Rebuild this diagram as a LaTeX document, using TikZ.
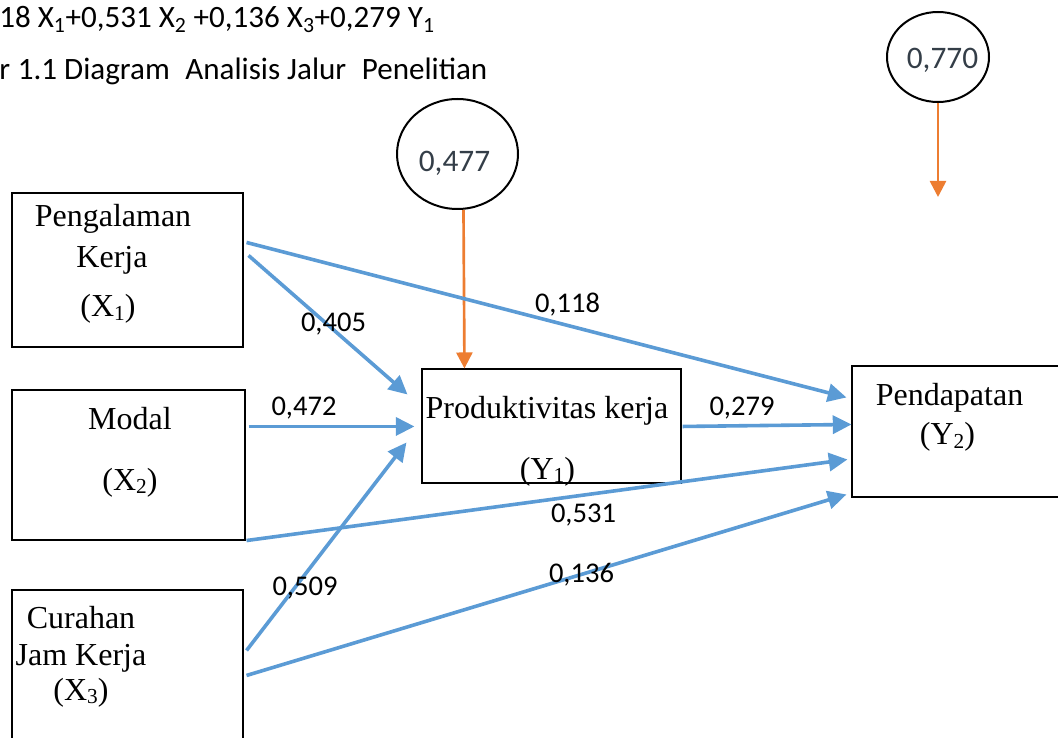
\documentclass[tikz,border=0pt]{standalone}
\usepackage{fontspec}
\setmainfont{Liberation Serif}
\newfontfamily\calib{Carlito}
\usetikzlibrary{arrows.meta,shapes.geometric,calc}
\definecolor{pblue}{RGB}{91,155,213}
\definecolor{porange}{RGB}{237,125,49}
\definecolor{cgray}{RGB}{52,62,72}
\newcommand{\sbx}[1]{\raisebox{-0.1em}{\fontsize{16}{16}\selectfont #1}}
\begin{document}
\begin{tikzpicture}[x=0.75pt,y=-0.75pt,
  box/.style={draw=black,line width=0.8pt,inner sep=0,rectangle},
  st/.style={font=\fontsize{24}{28}\selectfont,inner sep=0,anchor=base},
  lab/.style={font=\calib\fontsize{21.4}{25}\selectfont,inner sep=0,anchor=base},
  toptext/.style={font=\calib\fontsize{23.3}{27}\selectfont,inner sep=0,anchor=base west},
  circ/.style={draw=black,line width=1.5pt,ellipse,inner sep=0},
  ctext/.style={font=\calib\fontsize{23.5}{27}\selectfont,text=cgray,inner sep=0,anchor=base},
  pth/.style={draw=pblue,line width=2.7pt,-{Triangle[length=14pt,width=13.5pt]}},
  errarrow/.style={draw=porange,line width=2pt,-{Triangle[length=12pt,width=12pt]}}]
\useasboundingbox (0,0) rectangle (1058,738);
\clip (0,0) rectangle (1058,738);

% top text
\node[toptext] (eq) at (-1,28) {18 X\textsubscript{1}+0,531 X\textsubscript{2} +0,136 X\textsubscript{3}+0,279 Y\textsubscript{1}};
\node[toptext] (cap) at (-1,80) {r\hspace{0.25em}1.1 Diagram\hspace{0.5em}Analisis Jalur\hspace{0.5em}Penelitian};

% boxes
\node[box,minimum width=231*0.75pt,minimum height=154*0.75pt] (x1) at (127.5,270) {};
\node[box,minimum width=233*0.75pt,minimum height=150*0.75pt] (x2) at (128.5,465) {};
\node[box,minimum width=231*0.75pt,minimum height=170*0.75pt] (x3) at (127.5,675) {};
\node[box,minimum width=259*0.75pt,minimum height=114*0.75pt] (y1) at (551.5,426) {};
\node[box,minimum width=218*0.75pt,minimum height=131*0.75pt] (y2) at (961,431.5) {};

% box texts
\node[st] (t1a) at (113,227) {Pengalaman};
\node[st] (t1b) at (112,268) {Kerja};
\node[st] (t1c) at (108,317) {(X\sbx{1})};
\node[st] (t2a) at (130,429) {Modal};
\node[st] (t2b) at (130,490) {(X\sbx{2})};
\node[st] (t3a) at (81,628) {Curahan};
\node[st] (t3b) at (81,665) {Jam Kerja};
\node[st] (t3c) at (81,700) {(X\sbx{3})};
\node[st] (ty1a) at (547,418) {Produktivitas kerja};
\node[st] (ty1b) at (547.5,479) {(Y\sbx{1})};
\node[st] (ty2a) at (949.5,405) {Pendapatan};
\node[st] (ty2b) at (947.5,445) {(Y\sbx{2})};

% circles
\node[circ,minimum width=121*0.75pt,minimum height=110*0.75pt] (c1) at (457.5,154) {};
\node[ctext] (c1t) at (454.5,172) {0,477};
\node[circ,minimum width=102*0.75pt,minimum height=90*0.75pt] (c2) at (938,57) {};
\node[ctext] (c2t) at (942.5,69) {0,770};
\coordinate (e2end) at (938,197);

% error arrows
\draw[errarrow] ($(c1.south)+(6,0)$) -- ($(y1.north west)+(43,0)$);
\draw[errarrow] (c2.south) -- (e2end);

% path arrows
\draw[pth] ($(x1.north east)+(3,50)$) -- ($(y2.north west)+(-5,32)$);
\draw[pth] ($(x1.north east)+(5,63)$) -- ($(y1.north west)+(-14,26)$);
\draw[pth] ($(x2.north east)+(3,37)$) -- ($(y1.north west)+(-7,58)$);
\draw[pth] ($(x3.north east)+(3,61)$) -- ($(y1.north west)+(-15,74)$);
\draw[pth] ($(y1.north east)+(1,58)$) -- ($(y2.north west)+(0,59)$);
\draw[pth] ($(x2.south east)+(1,0)$) -- ($(y2.north west)+(-4,94)$);
\draw[pth] ($(x3.north east)+(3,86)$) -- ($(y2.north west)+(-5,129)$);

% coefficient labels
\node[lab] (l405) at (333.5,332) {0,405};
\node[lab] (l472) at (304,415) {0,472};
\node[lab] (l509) at (305,595) {0,509};
\node[lab] (l118) at (567.5,313) {0,118};
\node[lab] (l531) at (583.5,522) {0,531};
\node[lab] (l136) at (581.5,582) {0,136};
\node[lab] (l279) at (742,415) {0,279};
\end{tikzpicture}
\end{document}
